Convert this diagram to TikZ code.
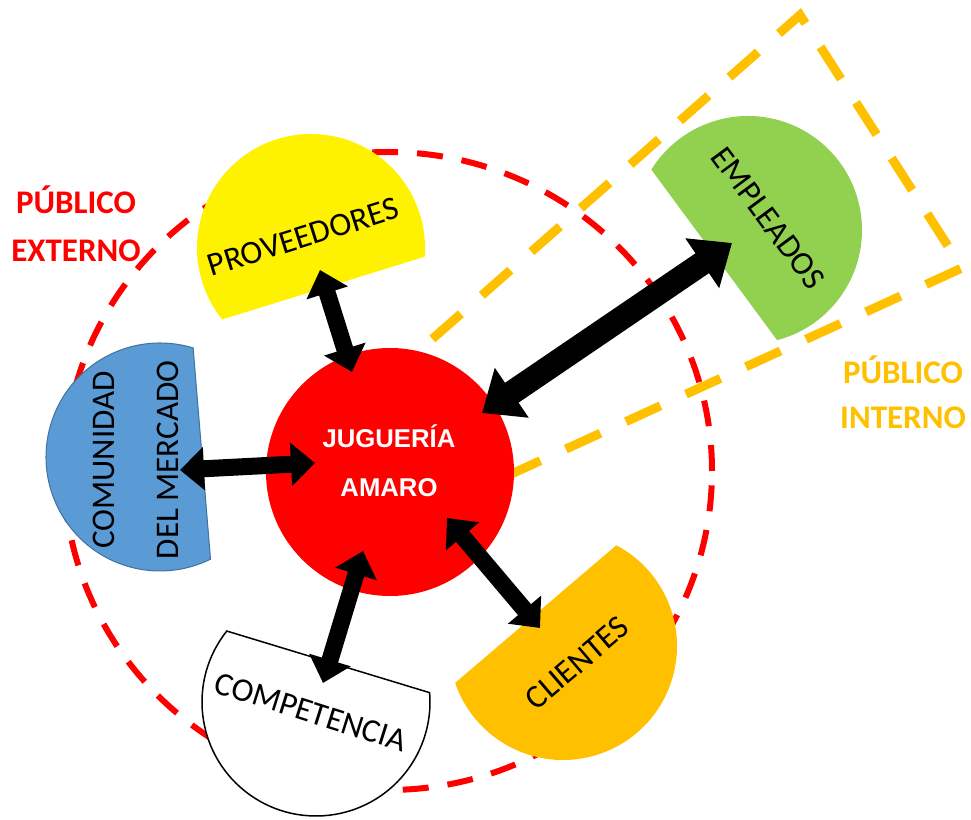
\documentclass[tikz,border=0pt]{standalone}
\usepackage{fontspec}
\setmainfont{Carlito}
\newfontfamily\arialfont{Liberation Sans}
\usetikzlibrary{arrows.meta}
\definecolor{oro}{RGB}{255,192,0}
\definecolor{verde}{RGB}{146,208,80}
\definecolor{azul}{RGB}{91,155,213}
\definecolor{azulborde}{RGB}{65,113,156}
\newcommand{\cuerda}[3]{\path[#3] (#1) ++({#2+68.4}:114) arc[start angle={#2+68.4}, end angle={#2+291.6}, radius=114] -- cycle;}

\begin{document}
\begin{tikzpicture}[x=1pt, y=1pt]
  \tikzstyle{externo}=[draw=red, line width=6pt, dash pattern=on 26pt off 19pt]
  \tikzstyle{interno}=[draw=oro, line width=9pt, dash pattern=on 38pt off 28pt, dash phase=29.6pt]
  \tikzstyle{rotulo}=[font=\fontsize{33}{64}\selectfont, align=center, inner sep=0pt]
  \tikzstyle{titulo}=[font=\bfseries\fontsize{33}{48}\selectfont, align=center]
  \tikzstyle{flecha}=[line width=17pt, {Triangle[length=24pt,width=42pt]}-{Triangle[length=24pt,width=42pt]}]
  \tikzstyle{flechota}=[line width=24pt, {Triangle[length=36pt,width=58pt]}-{Triangle[length=36pt,width=58pt]}]
  \useasboundingbox (0,0) rectangle (971,819);

  \draw[externo] (388,348) ellipse [x radius=324, y radius=319];
  \draw[interno] (405,456) -- (800,804) -- (962,551) -- (485,333) -- cycle;

  \coordinate (cprov) at (311,571);
  \coordinate (ccom) at (160,362);
  \coordinate (ccomp) at (316,117);
  \coordinate (ccli) at (563,173);
  \coordinate (cemp) at (748,589);
  \cuerda{cprov}{-72.8}{fill=yellow}
  \cuerda{ccom}{4.7}{fill=azul, draw=azulborde, line width=1pt}
  \cuerda{ccomp}{73.1}{fill=white, draw=black, line width=1.5pt}
  \cuerda{ccli}{130.5}{fill=oro}
  \cuerda{cemp}{216.4}{fill=verde}

  \node[circle, fill=red, minimum size=248pt, text=white, align=center,
        font=\arialfont\bfseries\fontsize{25.7}{49}\selectfont] (jug) at (390,347) {};
  \node[text=white, align=center, font=\arialfont\bfseries\fontsize{25.7}{49}\selectfont] (jugtxt) at (389,358) {JUGUERÍA\\AMARO};

  \node[rotulo, rotate=17.5] (prov) at (303,582) {PROVEEDORES};
  \node[rotulo, rotate=90] (com) at (136,359) {COMUNIDAD\\DEL MERCADO};
  \node[rotulo, rotate=-17.5] (comp) at (311,107) {COMPETENCIA};
  \node[rotulo, rotate=40.5] (cli) at (577,156) {CLIENTES};
  \node[rotulo, rotate=-53.5] (emp) at (768,601) {EMPLEADOS};

  \node[titulo, text=red] (pext) at (76,595) {PÚBLICO\\EXTERNO};
  \node[titulo, text=oro, font=\bfseries\fontsize{33}{45}\selectfont] (pint) at (903,427) {PÚBLICO\\INTERNO};

  \coordinate (p1) at (320,549);
  \coordinate (p2) at (352,447);
  \coordinate (m1) at (180,349);
  \coordinate (m2) at (315,356);
  \coordinate (c1) at (363,268);
  \coordinate (c2) at (323,136);
  \coordinate (l1) at (447,301);
  \coordinate (l2) at (540,191);
  \coordinate (e1) at (482,406);
  \coordinate (e2) at (732,576);
  \draw[flecha] (p1) -- (p2);
  \draw[flecha] (m1) -- (m2);
  \draw[flecha] (c1) -- (c2);
  \draw[flecha] (l1) -- (l2);
  \draw[flechota] (e1) -- (e2);
\end{tikzpicture}
\end{document}
